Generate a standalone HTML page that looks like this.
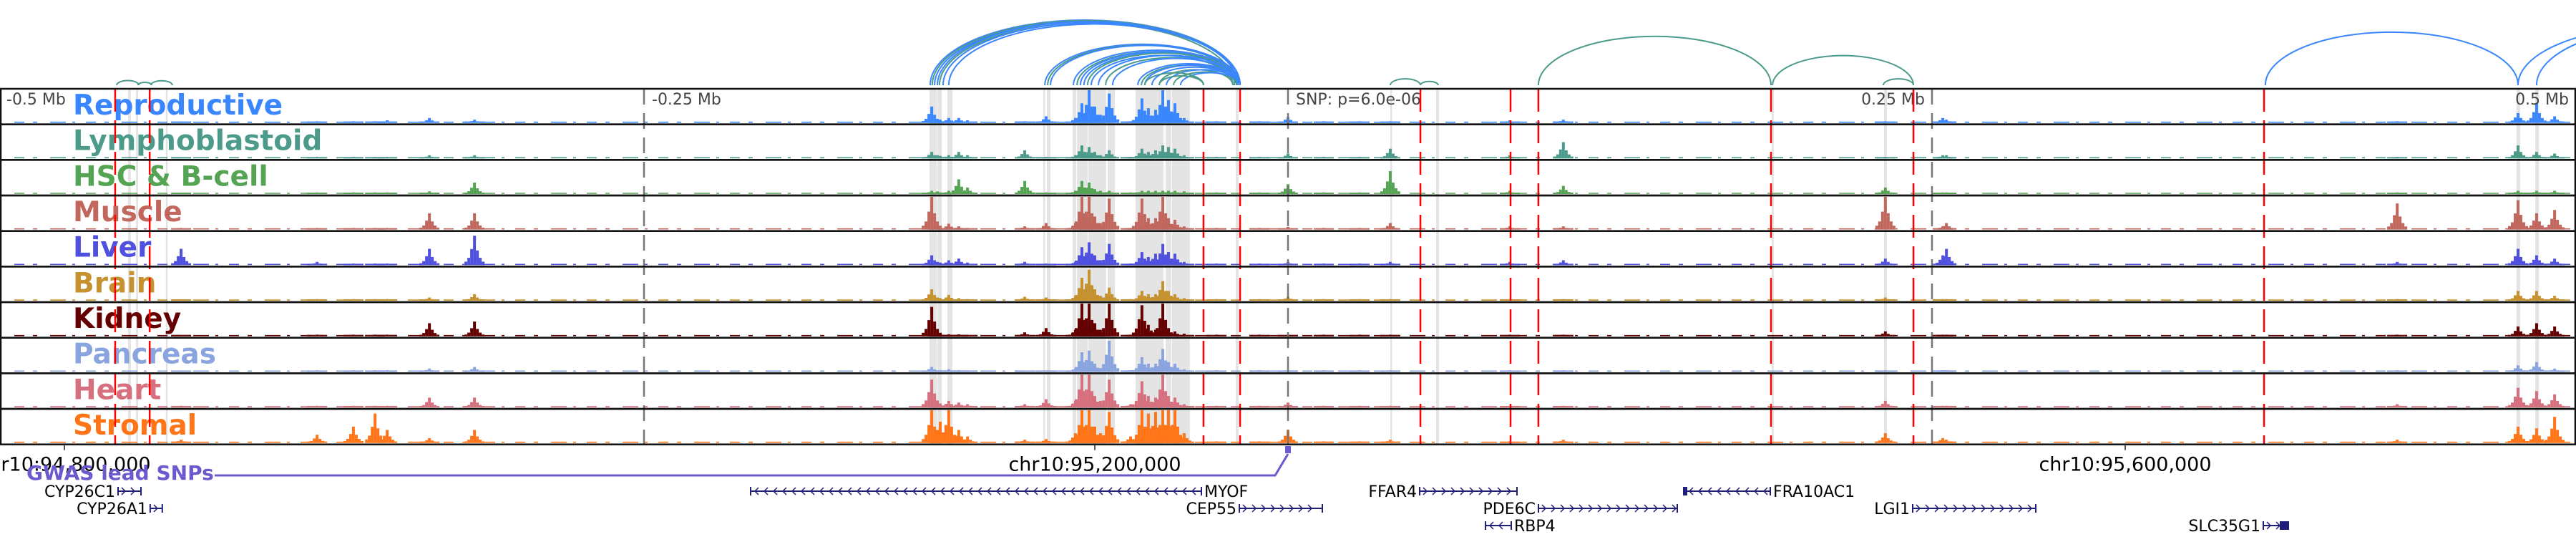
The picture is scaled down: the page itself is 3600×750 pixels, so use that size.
<!DOCTYPE html>
<html><head><meta charset="utf-8"><style>
html,body{margin:0;padding:0;background:#fff;}
svg{display:block;}
</style></head><body>
<svg id="chart" xmlns="http://www.w3.org/2000/svg" width="3600" height="750" viewBox="0 0 3600 750" font-family="'DejaVu Sans','Liberation Sans',sans-serif">
<rect x="0" y="0" width="3600" height="750" fill="#fff"/>
<g id="bands"></g>
<g id="bars"></g>
<g id="labels"></g>
<g id="vlines"></g>
<g id="frames"></g>
<g id="arcs"></g>
<g id="axis"></g>
<g id="genes"></g>
</svg>
<script>
// ---- data ----
const SNP_POS = 95275000;
const tracks = ["Reproductive","Lymphoblastoid","HSC & B-cell","Muscle","Liver","Brain","Kidney","Pancreas","Heart","Stromal"];
const trackColors = ["#3a86ff","#4c9a8a","#55a454","#c1675d","#5050e0","#c5922f","#650000","#8aa4e0","#d6707e","#ff7518"];
// peak positions, kb relative to lead SNP
const peakKb = [-429.7,-333.3,-315.8,-376.9,-362.8,-354.4,-349.7,-102.2,-138.3,-136.1,-135.0,-131.7,-127.8,-124.4,
  -58.9,-93.9,-82.5,-80.0,-77.2,-75.0,-72.8,-69.4,-61.1,-56.7,-54.2,-51.4,-48.6,-46.4,-43.9,-40.3,
  -27.8,-11.1,13.9,27.8,0.0,39.7,86.1,106.9,254.2,231.9,255.6,430.6,477.5,484.7,491.7];
// heights per track (fraction of track height)
const hRep = [0.02,0.15,0.1,0.05,0.05,0.05,0.08,0.05,0.5,0.1,0.1,0.15,0.15,0.08,0.05,0.2,0.15,0.6,1.0,0.5,0.25,0.9,0.05,0.75,0.45,0.4,1.0,0.7,0.6,0.15,0.05,0.05,0.05,0.05,0.18,0.05,0.08,0.1,0.15,0.05,0.1,0.05,0.3,0.6,0.2];
const hLym = [0.02,0.1,0.1,0.05,0.05,0.05,0.05,0.25,0.2,0.1,0.08,0.1,0.2,0.1,0.05,0.05,0.1,0.4,0.35,0.2,0.1,0.25,0.05,0.3,0.2,0.25,0.4,0.35,0.3,0.1,0.05,0.05,0.05,0.05,0.15,0.3,0.1,0.5,0.1,0.05,0.1,0.05,0.4,0.2,0.15];
const hHSC = [0.02,0.08,0.35,0.05,0.05,0.05,0.05,0.4,0.1,0.08,0.05,0.1,0.45,0.2,0.05,0.05,0.1,0.4,0.35,0.15,0.1,0.1,0.05,0.1,0.1,0.1,0.1,0.1,0.1,0.08,0.05,0.05,0.05,0.05,0.3,0.7,0.1,0.25,0.05,0.2,0.05,0.05,0.1,0.1,0.1];
const hMus = [0.05,0.5,0.5,0.05,0.05,0.05,0.05,0.1,1.0,0.08,0.08,0.18,0.1,0.05,0.05,0.2,0.2,1.0,1.0,0.4,0.2,0.95,0.05,0.95,0.35,0.35,1.0,0.35,0.3,0.1,0.05,0.05,0.05,0.05,0.08,0.2,0.1,0.1,0.1,1.0,0.2,0.8,0.9,0.5,0.6];
const hLiv = [0.5,0.5,0.9,0.1,0.05,0.05,0.05,0.1,0.3,0.1,0.08,0.15,0.2,0.08,0.05,0.05,0.1,0.55,0.7,0.3,0.15,0.65,0.05,0.4,0.25,0.35,0.65,0.4,0.35,0.1,0.05,0.05,0.05,0.05,0.1,0.1,0.1,0.15,0.3,0.2,0.5,0.1,0.5,0.3,0.2];
const hBra = [0.02,0.1,0.2,0.05,0.05,0.05,0.05,0.12,0.35,0.1,0.08,0.18,0.08,0.05,0.05,0.1,0.15,0.7,0.95,0.35,0.15,0.4,0.05,0.3,0.2,0.2,0.6,0.3,0.2,0.08,0.05,0.05,0.05,0.05,0.12,0.05,0.05,0.05,0.05,0.1,0.05,0.05,0.3,0.3,0.15];
const hKid = [0.02,0.4,0.45,0.05,0.05,0.05,0.05,0.12,0.9,0.08,0.06,0.06,0.06,0.04,0.05,0.25,0.2,1.0,1.0,0.4,0.2,1.0,0.05,0.95,0.35,0.2,1.0,0.2,0.15,0.08,0.05,0.05,0.05,0.05,0.03,0.05,0.05,0.05,0.05,0.15,0.05,0.05,0.3,0.4,0.3];
const hPan = [0.02,0.1,0.15,0.05,0.05,0.05,0.05,0.04,0.15,0.05,0.05,0.08,0.05,0.04,0.05,0.04,0.1,0.6,0.65,0.25,0.1,0.95,0.05,0.45,0.25,0.25,0.7,0.3,0.25,0.08,0.05,0.05,0.05,0.05,0.05,0.05,0.05,0.05,0.05,0.05,0.05,0.05,0.2,0.3,0.1];
const hHea = [0.05,0.3,0.3,0.05,0.05,0.05,0.05,0.1,0.85,0.15,0.12,0.2,0.15,0.1,0.05,0.25,0.2,1.0,1.0,0.35,0.2,0.85,0.1,0.8,0.35,0.3,1.0,0.35,0.3,0.1,0.05,0.05,0.05,0.05,0.15,0.05,0.05,0.05,0.05,0.2,0.05,0.1,0.6,0.5,0.4];
const hStr = [0.1,0.15,0.4,0.25,0.5,0.9,0.4,0.1,1.0,0.4,0.65,1.0,0.4,0.2,0.05,0.12,0.3,1.0,1.0,0.5,0.3,0.95,0.2,1.0,0.9,0.95,1.0,1.0,1.0,0.3,0.05,0.05,0.05,0.05,0.4,0.1,0.05,0.1,0.15,0.3,0.1,0.1,0.5,0.45,0.8];
const trackHeights = [hRep,hLym,hHSC,hMus,hLiv,hBra,hKid,hPan,hHea,hStr];
// highlighted regions (kb start, kb end)
const bandStart = [-450.3,-447.2,-435.6,-139.2,-136.1,-132.2,-95.0,-93.6,-83.6,-81.9,-77.5,-70.0,-59.2,-47.5,-45.0,-20.3,39.7,57.5,187.8,231.4,476.9,484.2];
const bandEnd   = [-449.2,-446.4,-435.0,-136.4,-134.4,-130.3,-94.4,-92.2,-82.2,-77.8,-70.6,-67.2,-48.3,-45.3,-38.1,-19.2,40.3,58.6,188.6,232.5,478.3,485.6];
// red dashed (candidate SNP) lines, kb
const redKb = [-455.3,-441.9,-32.8,-18.6,51.4,86.4,97.2,187.5,242.8,378.9];
// loops: start kb, end kb, colour index (0 blue, 1 green)
const loopStart = [-454.7,-446.4,-441.4,-138.9,-138.1,-137.2,-136.1,-135.3,-133.9,-131.7,-94.4,-93.3,-92.2,-83.3,-81.9,-80.6,-79.2,-77.8,-76.4,-73.6,-70.8,-68.1,-58.3,-56.9,-55.6,-52.8,-50.0,-47.2,-44.4,-41.7,-55.6,-50.0,39.7,51.4,97.2,188.1,231.1,379.4,477.5,484.7];
const loopEnd   = [-446.1,-441.1,-433.1,-18.6,-18.6,-19.4,-18.6,-20.8,-18.6,-18.6,-18.6,-19.4,-18.6,-18.6,-20.0,-18.6,-19.4,-18.6,-21.4,-18.6,-20.0,-18.6,-18.6,-20.0,-18.6,-19.4,-21.4,-18.6,-20.0,-18.6,-32.8,-32.8,51.4,58.3,187.5,242.8,242.8,477.5,585.0,595.0];
const loopColor = [1,1,1,0,1,0,0,1,0,0,0,1,0,0,1,0,0,1,0,0,1,0,0,1,0,0,1,0,1,0,1,1,1,1,1,1,1,0,0,0];
const scaleTickKb = [-500,-250,0,250,500];
const scaleTickLabels = ["-0.5 Mb","-0.25 Mb","SNP: p=6.0e-06","0.25 Mb","0.5 Mb"];
const axisTicks = [94800000,95200000,95600000];
const axisTickLabels = ["chr10:94,800,000","chr10:95,200,000","chr10:95,600,000"];
// genes
const geneNames = ["CYP26C1","CYP26A1","MYOF","CEP55","FFAR4","PDE6C","RBP4","FRA10AC1","LGI1","SLC35G1"];
const geneStart = [94820833,94833300,95066389,95256111,95326111,95372222,95351667,95429167,95517500,95653611];
const geneEnd   = [94829722,94838000,95241389,95288333,95363889,95426111,95361667,95462222,95565278,95663333];
const geneStrand = [1,1,-1,1,1,1,-1,-1,1,1];
const geneRow = [0,1,0,1,0,1,2,0,1,2];

// ---- scales ----
const PX_PER_BP = 0.0036;
const X0 = 1800;
const xPos = bp => X0 + (bp - SNP_POS) * PX_PER_BP;
const xKb = kb => X0 + kb * 1000 * PX_PER_BP;
const TOP = 124, TH = 49.67, NT = tracks.length, BOTTOM = TOP + TH*NT;
const trackTop = i => TOP + i*TH;
const NS = "http://www.w3.org/2000/svg";
function mk(tag, attrs, parent){const e=document.createElementNS(NS,tag);for(const k in attrs)e.setAttribute(k,attrs[k]);parent.appendChild(e);return e;}
const gBands=document.getElementById('bands'),gBars=document.getElementById('bars'),gLab=document.getElementById('labels'),
 gV=document.getElementById('vlines'),gF=document.getElementById('frames'),gArcs=document.getElementById('arcs'),
 gAx=document.getElementById('axis'),gGenes=document.getElementById('genes');

// bands
bandStart.forEach((s,i)=>{
  const x1=xKb(s), x2=xKb(bandEnd[i]);
  const r=mk('rect',{x:x1,y:TOP,width:Math.max(2.5,x2-x1),height:BOTTOM-TOP,fill:'#e4e4e4'},gBands);
  
  
});

// tracks
tracks.forEach((name,t)=>{
  const top=trackTop(t), base=top+TH-2, maxH=TH-4, col=trackColors[t];
  const g=mk('g',{},gBars);
  
  
  const bl=mk('line',{x1:20,x2:3592,y1:base-1,y2:base-1,stroke:col,'stroke-width':1.6,'stroke-dasharray':'14 12 6 18 22 9 4 15'},g);
  
  
  const hs=trackHeights[t];
  peakKb.forEach((kb,j)=>{
    const h=Math.min(1,hs[j])*maxH, cx=xKb(kb);
    const parts=[[0,1,4],[-4,0.55,4],[4,0.5,4],[-8,0.25,4],[8,0.25,4],[-12,0.12,4],[12,0.12,4]];
    parts.forEach(p=>{
      const hh=Math.max(2,h*p[1]);
      const b=mk('rect',{x:cx+p[0]-p[2]/2,y:base-hh,width:p[2],height:hh,fill:col},g);
      
      
    });
  });
  const lt=mk('text',{x:102,y:top+36,fill:col,'font-size':39,'font-weight':'bold'},gLab);
  lt.textContent=name;
  
  
  const fr=mk('rect',{x:1,y:top,width:3598,height:TH,fill:'none',stroke:'#111','stroke-width':2.5},gF);
  
  
});

// scale lines and labels
scaleTickKb.forEach((kb,i)=>{
  const x=xKb(kb);
  if(kb>-500 && kb<500){
    const l=mk('line',{x1:x,x2:x,y1:TOP,y2:BOTTOM,stroke:'#777','stroke-width':2.5,'stroke-dasharray':'22 12'},gV);
    
    
  }
  let tx, anchor='start';
  if(kb===-500){tx=x+9;} else if(kb===-250||kb===0){tx=x+11;} else {tx=x-10;anchor='end';}
  const t=mk('text',{x:tx,y:TOP+22,fill:'#444','font-size':22,'text-anchor':anchor},gV);
  t.textContent=scaleTickLabels[i];
  
  
});
redKb.forEach(kb=>{
  const x=xKb(kb);
  const l=mk('line',{x1:x,x2:x,y1:TOP,y2:BOTTOM,stroke:'#ff0000','stroke-width':2.5,'stroke-dasharray':'32 12'},gV);
  
  
});

// arcs
const ARC_BASE = 119;
loopStart.forEach((s,i)=>{
  const x1=xKb(s), x2=xKb(loopEnd[i]);
  const rx=(x2-x1)/2, ry=0.42*rx;
  const p=mk('path',{d:`M${x1},${ARC_BASE} A${rx},${ry} 0 0 1 ${x2},${ARC_BASE}`,fill:'none',
    stroke:loopColor[i]?'#4c9a8a':'#3a86ff','stroke-width':2},gArcs);
  
  
});

// genomic axis
axisTicks.forEach((bp,i)=>{
  const x=xPos(bp);
  const l=mk('line',{x1:x,x2:x,y1:BOTTOM,y2:BOTTOM+8,stroke:'#222','stroke-width':1.5},gAx);
  
  
  const t=mk('text',{x:x,y:BOTTOM+37,fill:'#000','font-size':27,'text-anchor':'middle'},gAx);
  t.textContent=axisTickLabels[i];
  
  
});
// GWAS lead SNP track
const sx=xPos(SNP_POS);
const gw=mk('polyline',{points:`300,664 ${sx-18},664 ${sx},634`,fill:'none',stroke:'#6a5acd','stroke-width':3},gAx);


const gb=mk('rect',{x:sx-4,y:623,width:8,height:10,fill:'#6a5acd'},gAx);


const gt=mk('text',{x:37,y:670,fill:'#6a5acd','font-size':28,'font-weight':'bold'},gAx);
gt.textContent='GWAS lead SNPs';



// genes
const rowY=[686,710,734];
geneNames.forEach((n,i)=>{
  const x1=xPos(geneStart[i]), x2=xPos(geneEnd[i]), y=rowY[geneRow[i]];
  const g=mk('g',{},gGenes);
  
  
  mk('line',{x1:x1,x2:x2,y1:y,y2:y,stroke:'#1f1f7a','stroke-width':2},g);
  mk('line',{x1:x1,x2:x1,y1:y-6,y2:y+6,stroke:'#1f1f7a','stroke-width':2},g);
  mk('line',{x1:x2,x2:x2,y1:y-6,y2:y+6,stroke:'#1f1f7a','stroke-width':2},g);
  for(let x=x1+8;x<x2-4;x+=13){
    const d=geneStrand[i]>0?`M${x-3},${y-5} L${x+2},${y} L${x-3},${y+5}`:`M${x+3},${y-5} L${x-2},${y} L${x+3},${y+5}`;
    mk('path',{d:d,fill:'none',stroke:'#1f1f7a','stroke-width':1.5},g);
  }
  if(n==='FRA10AC1') mk('rect',{x:x1-3,y:y-6,width:6,height:12,fill:'#1f1f7a'},g);
  if(n==='SLC35G1') mk('rect',{x:x2-12,y:y-6,width:12,height:12,fill:'#1f1f7a'},g);
  const right = (n==='RBP4'||n==='MYOF'||n==='FRA10AC1');
  const t=mk('text',{x:right?x2+4:x1-4,y:y+8,fill:'#000','font-size':22,'text-anchor':right?'start':'end'},g);
  t.textContent=n;
});
</script>
</body></html>
